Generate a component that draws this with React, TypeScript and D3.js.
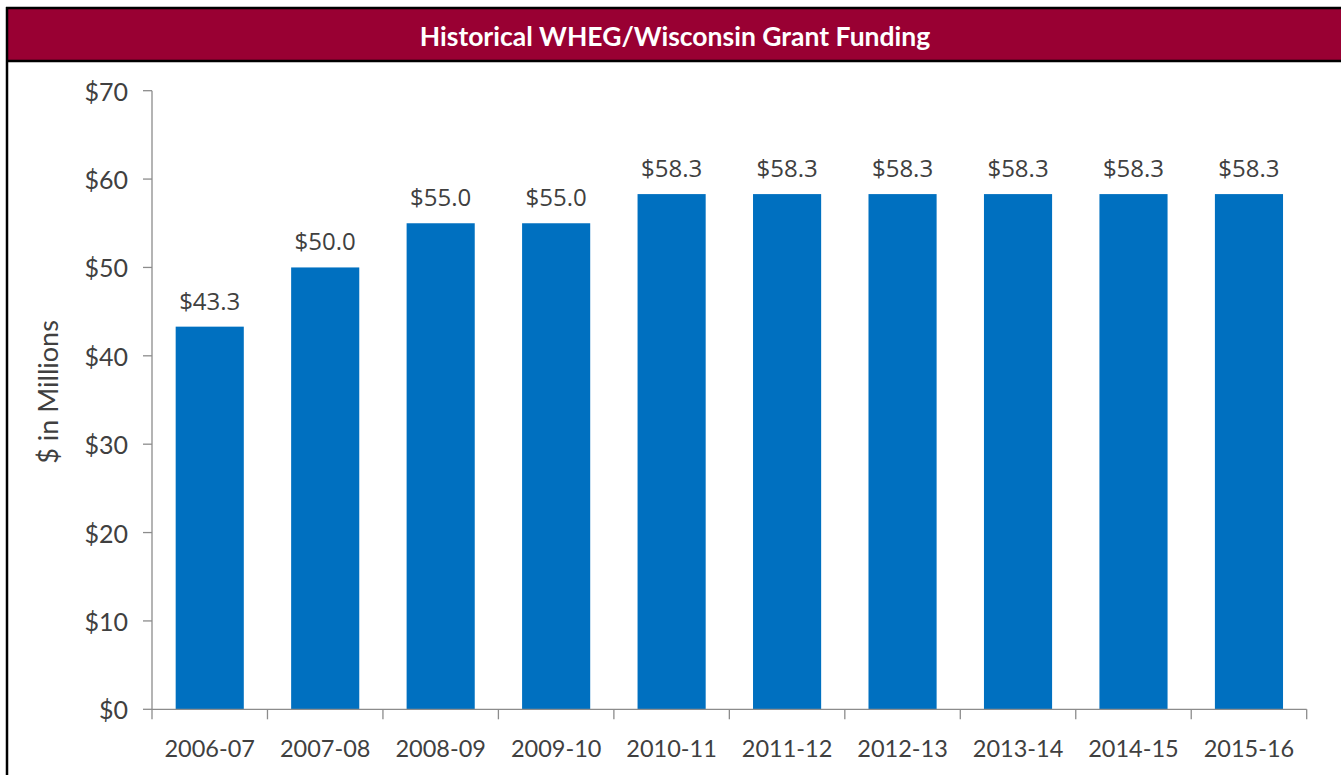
import React from "react";
import * as d3 from "d3";

const categories = ["2006-07","2007-08","2008-09","2009-10","2010-11","2011-12","2012-13","2013-14","2014-15","2015-16"];
const values = [43.3, 50.0, 55.0, 55.0, 58.3, 58.3, 58.3, 58.3, 58.3, 58.3];
const yTicks = [0, 10, 20, 30, 40, 50, 60, 70];
const title = "Historical WHEG/Wisconsin Grant Funding";
const yTitle = "$ in Millions";

export default function App() {
  const W = 1341, H = 775;
  const left = 152, right = 1306.7, top = 90.7, bottom = 709.3;
  const x = d3.scaleBand<string>().domain(categories).range([left, right]).paddingInner(0.41).paddingOuter(0.205);
  const xEdge = d3.scaleBand<string>().domain(categories).range([left, right]);
  const y = d3.scaleLinear().domain([0, 70]).range([bottom, top]);
  const tickFont = "Lato, 'Open Sans', sans-serif";
  const axisColor = "#8c8c8c";
  const textColor = "#404040";
  return (
    <svg width={W} height={H} style={{ position: "absolute", left: 0, top: 0, background: "#fff" }}>
      <rect x={0} y={0} width={W} height={H} fill="#fff" />
      {/* title band */}
      <rect x={7} y={8.5} width={W} height={52} fill="#990033" />
      <line x1={6} x2={W} y1={8} y2={8} stroke="#000" strokeWidth={2.5} />
      <line x1={6} x2={W} y1={61} y2={61} stroke="#000" strokeWidth={2.5} />
      <line x1={7} x2={7} y1={7} y2={H} stroke="#000" strokeWidth={2.5} />
      <text x={675} y={36} textAnchor="middle" dominantBaseline="central" fill="#fff"
        style={{ font: "bold 26.5px Lato, 'Open Sans', sans-serif" }}>{title}</text>

      {/* bars */}
      {categories.map((c, i) => (
        <g key={c}>
          <rect x={x(c)} y={y(values[i])} width={x.bandwidth()} height={y(0) - y(values[i])} fill="#0070C0" />
          <text x={(x(c) as number) + x.bandwidth() / 2} y={y(values[i]) - 17} textAnchor="middle"
            fill={textColor} style={{ font: "24px 'Open Sans', sans-serif" }}>
            {"$" + values[i].toFixed(1)}
          </text>
        </g>
      ))}

      {/* y axis */}
      <line x1={left} x2={left} y1={top} y2={bottom} stroke={axisColor} strokeWidth={1.3} />
      {yTicks.map(t => (
        <g key={t}>
          <line x1={143} x2={left} y1={y(t)} y2={y(t)} stroke={axisColor} strokeWidth={1.3} />
          <text x={128} y={y(t)} textAnchor="end" dominantBaseline="central" fill={textColor}
            style={{ font: `25px ${tickFont}` }}>{"$" + t}</text>
        </g>
      ))}
      {/* x axis */}
      <line x1={left} x2={right} y1={bottom} y2={bottom} stroke={axisColor} strokeWidth={1.3} />
      {categories.map(c => (
        <line key={"t" + c} x1={(xEdge(c) as number)} x2={(xEdge(c) as number)} y1={bottom} y2={bottom + 10} stroke={axisColor} strokeWidth={1.3} />
      ))}
      <line x1={right} x2={right} y1={bottom} y2={bottom + 10} stroke={axisColor} strokeWidth={1.3} />
      {categories.map(c => (
        <text key={"l" + c} x={(xEdge(c) as number) + xEdge.bandwidth() / 2} y={748} textAnchor="middle"
          dominantBaseline="central" fill={textColor} style={{ font: `23.5px ${tickFont}` }}>{c}</text>
      ))}
      <text transform={`translate(47, 392) rotate(-90)`} textAnchor="middle" dominantBaseline="central"
        fill={textColor} style={{ font: `27px ${tickFont}` }}>{yTitle}</text>
    </svg>
  );
}
